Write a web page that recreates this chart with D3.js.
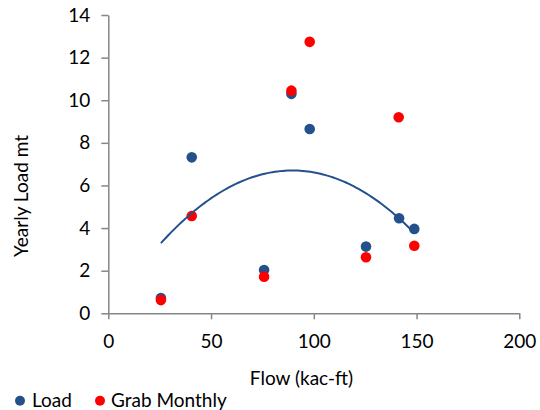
<!DOCTYPE html>
<html>
<head>
<meta charset="utf-8">
<script src="https://cdn.jsdelivr.net/npm/d3@7"></script>
<style>
  html, body { margin: 0; padding: 0; background: #fff; }
  svg { display: block; }
  text { font-family: Lato, "Liberation Sans", sans-serif; fill: #000; }
</style>
</head>
<body>
<svg id="chart" width="540" height="410"></svg>
<script>
// ---- Data ----
const flowLoad  = [25.6, 40.6, 75.8, 89.1, 98.0, 125.4, 141.5, 148.9];
const loadVals  = [0.72, 7.32, 2.03, 10.30, 8.65, 3.13, 4.46, 3.96];
const flowGrab  = [25.6, 40.6, 75.8, 89.1, 98.0, 125.4, 141.3, 148.9];
const grabVals  = [0.62, 4.57, 1.72, 10.45, 12.74, 2.63, 9.20, 3.17];
// polynomial (2nd order) trendline on Load: y = c0 + c1*x + c2*x^2
const trendCoef = [0.012, 0.1494, -0.000834];
const xTicks = [0, 50, 100, 150, 200];
const yTicks = [0, 2, 4, 6, 8, 10, 12, 14];
const seriesNames = ["Load", "Grab Monthly"];
const colors = ["#24508C", "#FF0000"];

const svg = d3.select("#chart");
const x = d3.scaleLinear().domain([0, 200]).range([108.3, 519.3]);
const y = d3.scaleLinear().domain([0, 14]).range([313.3, 15]);
const axisColor = "#868686";
const fontSize = 19;

// Y axis
const yAxis = svg.append("g")
  .attr("transform", `translate(${x(0)},0)`)
  .call(d3.axisLeft(y).tickValues(yTicks).tickSize(7).tickSizeOuter(0).tickPadding(11));
// X axis
const xAxis = svg.append("g")
  .attr("transform", `translate(0,${y(0)})`)
  .call(d3.axisBottom(x).tickValues(xTicks).tickSize(6).tickSizeOuter(0).tickPadding(15));
[yAxis, xAxis].forEach(g => {
  g.select(".domain").attr("stroke", axisColor).attr("stroke-width", 1.5);
  g.selectAll(".tick line").attr("stroke", axisColor).attr("stroke-width", 1.5);
  g.selectAll(".tick text").attr("font-size", fontSize).attr("font-family", "Lato").attr("fill", "#000");
});

// Axis titles
svg.append("text")
  .attr("transform", "rotate(-90)")
  .attr("x", -196).attr("y", 28)
  .attr("text-anchor", "middle")
  .attr("font-size", fontSize)
  .text("Yearly Load mt");
svg.append("text")
  .attr("x", 301.5).attr("y", 385)
  .attr("text-anchor", "middle")
  .attr("font-size", fontSize)
  .text("Flow (kac-ft)");

// Points
const loadData = flowLoad.map((f, i) => ({x: f, y: loadVals[i]}));
const grabData = flowGrab.map((f, i) => ({x: f, y: grabVals[i]}));
svg.append("g").selectAll("circle").data(loadData).join("circle")
  .attr("cx", d => x(d.x)).attr("cy", d => y(d.y)).attr("r", 5.3).attr("fill", colors[0]);
svg.append("g").selectAll("circle").data(grabData).join("circle")
  .attr("cx", d => x(d.x)).attr("cy", d => y(d.y)).attr("r", 5.3).attr("fill", colors[1]);

// Trendline
const [xmin, xmax] = d3.extent(flowLoad);
const trendPts = d3.range(0, 101).map(i => {
  const xv = xmin + (xmax - xmin) * i / 100;
  return {x: xv, y: trendCoef[0] + trendCoef[1] * xv + trendCoef[2] * xv * xv};
});
svg.append("path")
  .datum(trendPts)
  .attr("fill", "none")
  .attr("stroke", colors[0])
  .attr("stroke-width", 2)
  .attr("d", d3.line().x(d => x(d.x)).y(d => y(d.y)));

// Legend
const legendItems = [
  {name: seriesNames[0], color: colors[0], cx: 20, tx: 32},
  {name: seriesNames[1], color: colors[1], cx: 100, tx: 111}
];
const lg = svg.append("g");
legendItems.forEach(it => {
  lg.append("circle").attr("cx", it.cx).attr("cy", 400.7).attr("r", 5).attr("fill", it.color);
  lg.append("text").attr("x", it.tx).attr("y", 406.7).attr("font-size", fontSize).text(it.name);
});
</script>
</body>
</html>
